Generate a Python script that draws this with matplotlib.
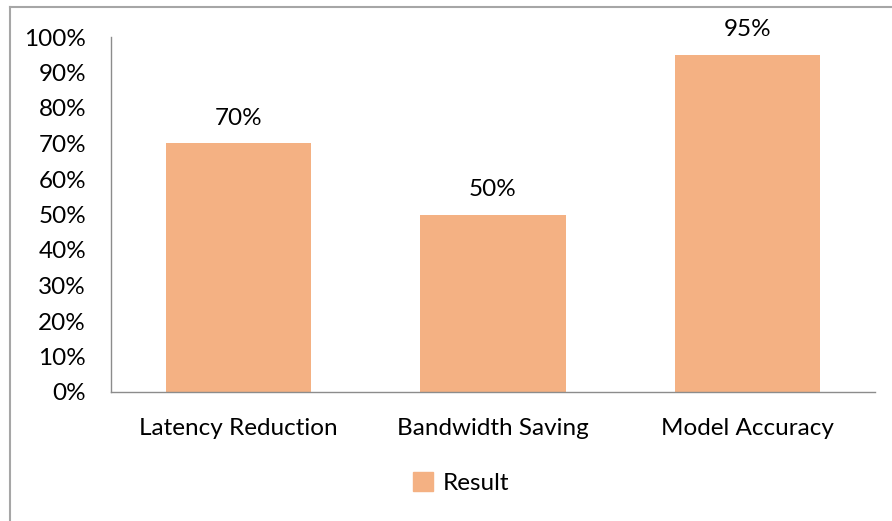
import matplotlib.pyplot as plt
from matplotlib.lines import Line2D
from matplotlib.patches import Patch

categories = ['Latency Reduction', 'Bandwidth Saving', 'Model Accuracy']
results = [70, 50, 95]
yticks = list(range(0, 101, 10))

plt.rcParams['font.family'] = ['Lato', 'DejaVu Sans']

fig = plt.figure(figsize=(8.92, 5.21), dpi=100)
W, H = 892, 521
ax = fig.add_axes([111 / W, 1 - 392 / H, (875 - 111) / W, (392 - 37) / H])

bar_color = '#F4B183'
fs = 17.5
x = range(len(categories))
bars = ax.bar(x, results, width=0.57, color=bar_color, label='Result')

for xi, v in zip(x, results):
    ax.text(xi, v + 7, f'{v}%', ha='center', va='center', fontsize=fs)

ax.set_xlim(-0.5, len(categories) - 0.5)
ax.set_ylim(0, 100)
ax.set_yticks(yticks)
ax.set_yticklabels([f'{t}%' for t in yticks], fontsize=fs)
ax.set_xticks(list(x))
ax.set_xticklabels(categories, fontsize=fs)
ax.tick_params(axis='both', length=0)
ax.tick_params(axis='y', pad=18)
ax.tick_params(axis='x', pad=19)

for side in ['top', 'right']:
    ax.spines[side].set_visible(False)
for side in ['left', 'bottom']:
    ax.spines[side].set_color('#8c8c8c')
    ax.spines[side].set_linewidth(1.0)

# outer chart border (left and top only visible)
fig.add_artist(Line2D([10 / W, 10 / W], [0, 1 - 7 / H], color='#a6a6a6', lw=1.5))
fig.add_artist(Line2D([10 / W, 1], [1 - 7 / H, 1 - 7 / H], color='#a6a6a6', lw=1.5))

fig.legend(handles=[Patch(color=bar_color, label='Result')],
           loc='center', bbox_to_anchor=(461 / W, 1 - 483 / H),
           frameon=False, fontsize=fs, handlelength=0.8, handleheight=0.8,
           handletextpad=0.4)

fig.savefig('out.png', dpi=100)
